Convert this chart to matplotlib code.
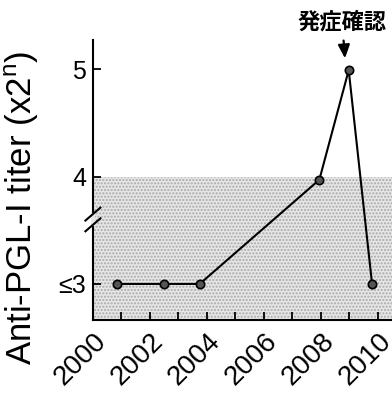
import matplotlib
matplotlib.use("Agg")
import matplotlib.pyplot as plt

plt.rcParams['font.family'] = ['Liberation Sans', 'DejaVu Sans']

years = [2000.85, 2002.5, 2003.75, 2007.95, 2008.98, 2009.8]
titer = [3, 3, 3, 3.97, 4.99, 3]
ytick_vals = [3, 4, 5]
ytick_labels = ['≤3', '4', '5']
xtick_major = [2000, 2002, 2004, 2006, 2008, 2010]
xtick_minor = list(range(2000, 2011))
shade_top = 4
annot_text = '発症確認'
annot_year = 2008.85

fig = plt.figure(figsize=(3.92, 3.93), dpi=100)
ax = fig.add_axes([0.237, 0.186, 0.763, 0.712])
ax.set_xlim(2000, 2010.5)
ax.set_ylim(2.665, 5.27)

ax.axhspan(ax.get_ylim()[0], shade_top, facecolor='#e6e6e6', edgecolor='#a8a8a8',
           hatch='.....', linewidth=0, zorder=0)

ax.plot(years, titer, color='black', lw=1.5, marker='o', markersize=6,
        markerfacecolor='#555555', markeredgecolor='black', markeredgewidth=1.2, zorder=3)

for s in ['top', 'right']:
    ax.spines[s].set_visible(False)
for s in ['left', 'bottom']:
    ax.spines[s].set_linewidth(1.5)

ax.set_yticks(ytick_vals)
ax.set_yticklabels(ytick_labels, fontsize=18)
ax.set_xticks(xtick_major)
ax.set_xticklabels([str(x) for x in xtick_major], fontsize=20, rotation=45,
                   ha='right', rotation_mode='anchor')
ax.set_xticks(xtick_minor, minor=True)
ax.tick_params(axis='both', which='both', direction='in', width=1.3)
ax.tick_params(axis='y', length=6, pad=5)
ax.tick_params(axis='x', which='both', length=6, pad=6)

ax.set_ylabel('Anti-PGL-I titer (x2$^\\mathregular{n}$)', fontsize=25)
ax.yaxis.set_label_coords(-0.175, 0.40)

# axis break marks
yb = 3.6
ax.plot([0, 0], [yb - 0.04, yb + 0.04], transform=ax.get_yaxis_transform(),
        color='#e6e6e6', lw=3, clip_on=False, zorder=4)
for dy in (-0.05, 0.05):
    ax.plot([-0.025, 0.025], [yb + dy - 0.06, yb + dy + 0.06],
            transform=ax.get_yaxis_transform(), color='black', lw=1.5,
            clip_on=False, zorder=5)

ax.annotate(annot_text, xy=(annot_year, 5.1), xytext=(annot_year - 0.1, 5.33),
            ha='center', va='bottom', fontsize=16, fontweight='bold',
            family=['Noto Sans CJK JP', 'DejaVu Sans'],
            arrowprops=dict(arrowstyle='-|>,head_width=0.22,head_length=0.5',
                            color='black', lw=1.6, shrinkA=3, shrinkB=0),
            annotation_clip=False)

fig.savefig('out.png', dpi=100)
